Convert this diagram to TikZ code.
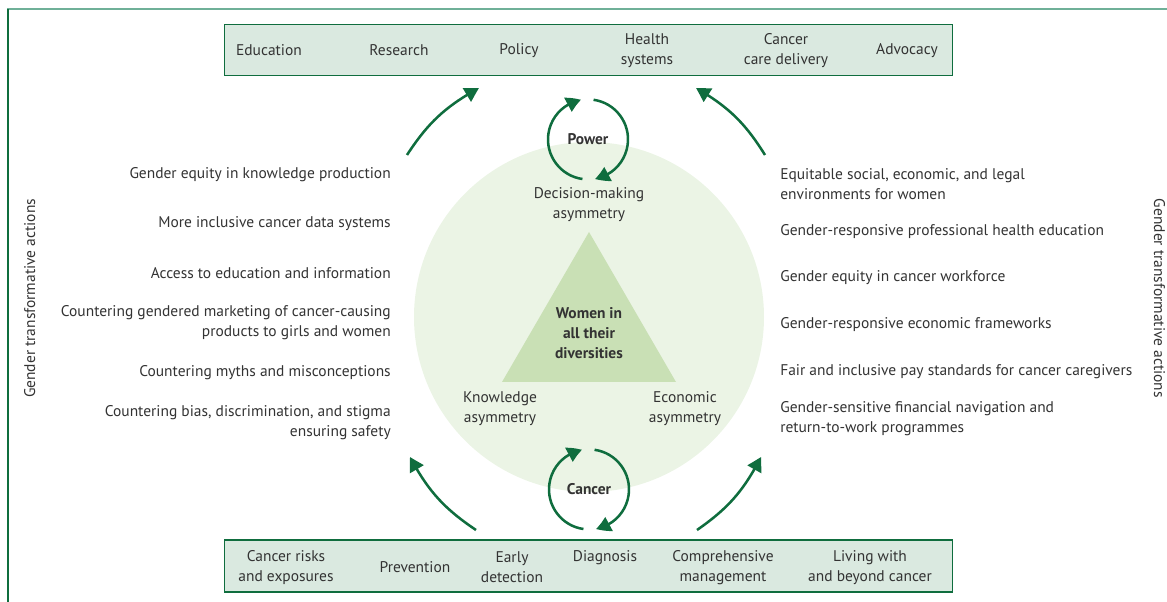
\documentclass[tikz,border=0pt]{standalone}
\usepackage{fontspec}
\setmainfont{PT Sans}
\usetikzlibrary{arrows.meta,bending,calc}
\definecolor{dkgreen}{HTML}{0F6D3E}
\definecolor{boxfill}{HTML}{DAE9E0}
\definecolor{ringfill}{HTML}{EBF4E5}
\definecolor{trifill}{HTML}{C9E0B5}
\definecolor{rulegreen}{HTML}{6FB098}
\definecolor{txt}{HTML}{333333}
\begin{document}
\begin{tikzpicture}[x=0.025cm,y=-0.025cm]
\tikzstyle{lab}=[text=txt,font=\fontsize{11}{14.2}\selectfont,inner sep=0pt,align=center,yshift=-1pt]
\tikzstyle{lt}=[lab,anchor=east,align=right]
\tikzstyle{rt}=[lab,anchor=west,align=left]
\tikzstyle{bold}=[lab,font=\fontsize{11}{14.2}\selectfont\bfseries]
\tikzstyle{bar}=[draw=dkgreen,fill=boxfill,line width=0.8pt,minimum width=18.175cm,inner sep=0pt]
\tikzstyle{cyc}=[draw=dkgreen,line width=1.8pt,-{Triangle[length=10pt,width=11pt,bend]}]
\useasboundingbox (0,0) rectangle (1167,602);

% Frame
\draw[rulegreen,line width=1.2pt] (7,9) -- (1167,9);
\draw[dkgreen,line width=1.2pt] (8,9) -- (8,602);

% Ring and triangle
\coordinate (c) at (589,317);
\fill[ringfill] (c) circle[radius=175];
\fill[trifill] (589,232) -- (502,382) -- (676,382) -- cycle;
\node[bold] (women) at (589,332) {Women in\\all their\\diversities};
\node[lab] (dec) at (589,203.5) {Decision-making\\asymmetry};
\node[lab] (know) at (500,407.5) {Knowledge\\asymmetry};
\node[lab] (econ) at (685,407.5) {Economic\\asymmetry};

% Top box
\node[bar,minimum height=1.275cm] (top) at (588.5,50) {};
\node[lab] (edu) at (269,49) {Education};
\node[lab] (res) at (399,49) {Research};
\node[lab] (pol) at (519,49) {Policy};
\node[lab] (hs) at (647,49) {Health\\systems};
\node[lab] (ccd) at (786,49) {Cancer\\care delivery};
\node[lab] (adv) at (907,49) {Advocacy};

% Bottom box
\node[bar,minimum height=1.3cm] (bot) at (588.5,566) {};
\node[lab] (risk) at (286,566) {Cancer risks\\and exposures};
\node[lab] (prev) at (415,566) {Prevention};
\node[lab] (early) at (512,566) {Early\\detection};
\node[lab] (diag) at (605,556) {Diagnosis};
\node[lab] (mgmt) at (723,566) {Comprehensive\\management};
\node[lab] (live) at (870,566) {Living with\\and beyond cancer};

% Power and cancer cycles
\node[bold] (power) at (588,138) {Power};
\node[bold] (cancer) at (589,488) {Cancer};
\foreach \n in {power,cancer}{
  \draw[cyc] ($(\n)+(98:40)$) arc[start angle=98,end angle=260,radius=40];
  \draw[cyc] ($(\n)+(-82:40)$) arc[start angle=-82,end angle=80,radius=40];
}

% Outer arrows
\coordinate (ul0) at (407,155); \coordinate (ul1) at (479,88);
\coordinate (ur0) at (765,155); \coordinate (ur1) at (696,88);
\coordinate (ll0) at (476,530); \coordinate (ll1) at (410,457);
\coordinate (lr0) at (697,530); \coordinate (lr1) at (761,457);
\draw[cyc] (ul0) to[bend left=14] (ul1);
\draw[cyc] (ur0) to[bend right=14] (ur1);
\draw[cyc] (ll0) to[bend left=14] (ll1);
\draw[cyc] (lr0) to[bend right=14] (lr1);

% Actions, left
\node[lt] (a1) at (391,173) {Gender equity in knowledge production};
\node[lt] (a2) at (391,222) {More inclusive cancer data systems};
\node[lt] (a3) at (391,272) {Access to education and information};
\node[lt] (a4) at (391,321.5) {Countering gendered marketing of cancer-causing\\products to girls and women};
\node[lt] (a5) at (391,371) {Countering myths and misconceptions};
\node[lt] (a6) at (391,421.5) {Countering bias, discrimination, and stigma\\ensuring safety};

% Actions, right
\node[rt] (b1) at (780,183) {Equitable social, economic, and legal\\environments for women};
\node[rt] (b2) at (780,230) {Gender-responsive professional health education};
\node[rt] (b3) at (780,276) {Gender equity in cancer workforce};
\node[rt] (b4) at (780,323) {Gender-responsive economic frameworks};
\node[rt] (b5) at (780,370) {Fair and inclusive pay standards for cancer caregivers};
\node[rt] (b6) at (780,417) {Gender-sensitive financial navigation and\\return-to-work programmes};

% Side titles
\node[lab,rotate=90,yshift=1pt] (gl) at (31,297) {Gender transformative actions};
\node[lab,rotate=-90,yshift=1pt] (gr) at (1158,297) {Gender transformative actions};
\end{tikzpicture}
\end{document}
